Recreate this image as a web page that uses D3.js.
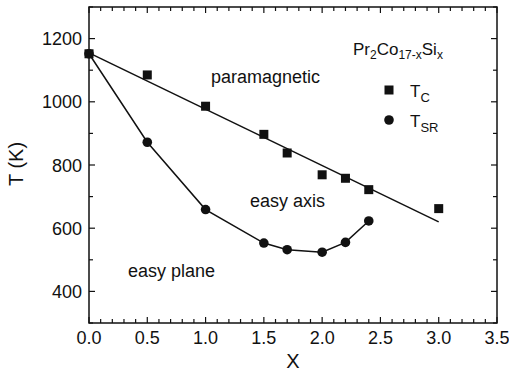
<!DOCTYPE html>
<html>
<head>
<meta charset="utf-8">
<script src="https://cdn.jsdelivr.net/npm/d3@7"></script>
<style>
  body { margin: 0; background: #fff; }
  text { font-family: Arial, "Liberation Sans", sans-serif; fill: #111; }
</style>
</head>
<body>
<div id="chart"></div>
<script>
// data
const xTC = [0, 0.5, 1.0, 1.5, 1.7, 2.0, 2.2, 2.4, 3.0];
const tc = [1152, 1085, 986, 897, 838, 769, 758, 722, 662];
const xTSR = [0, 0.5, 1.0, 1.5, 1.7, 2.0, 2.2, 2.4];
const tsr = [1152, 872, 659, 553, 532, 524, 555, 623];
// linear fit for T_C drawn as straight line
const fitX = [0, 3.0];
const fitY = [1155, 620];
const xTicks = [0, 0.5, 1.0, 1.5, 2.0, 2.5, 3.0, 3.5];
const yTicks = [400, 600, 800, 1000, 1200];

const width = 509, height = 377;
const margin = {top: 7, right: 12, bottom: 54, left: 89};

const svg = d3.select('#chart')
  .append('svg')
  .attr('width', width)
  .attr('height', height);

const x = d3.scaleLinear().domain([0, 3.5]).range([margin.left, width - margin.right]);
const y = d3.scaleLinear().domain([300, 1300]).range([height - margin.bottom, margin.top]);

const xMinor = d3.range(0, 3.501, 0.1).map(d => +d.toFixed(1));
const yMinor = d3.range(300, 1301, 100);

// ticks (inward on all four sides)
const g = svg.append('g').attr('stroke', '#111').attr('stroke-width', 1.2);
xMinor.forEach(v => {
  const major = Math.abs(v * 2 - Math.round(v * 2)) < 1e-6;
  const len = major ? 6 : 4;
  g.append('line').attr('x1', x(v)).attr('x2', x(v)).attr('y1', y(300)).attr('y2', y(300) - len);
  g.append('line').attr('x1', x(v)).attr('x2', x(v)).attr('y1', y(1300)).attr('y2', y(1300) + len);
});
yMinor.forEach(v => {
  const len = v % 200 === 0 ? 6 : 4;
  g.append('line').attr('x1', x(0)).attr('x2', x(0) + len).attr('y1', y(v)).attr('y2', y(v));
  g.append('line').attr('x1', x(3.5)).attr('x2', x(3.5) - len).attr('y1', y(v)).attr('y2', y(v));
});

// frame
svg.append('rect')
  .attr('x', x(0)).attr('y', y(1300))
  .attr('width', x(3.5) - x(0)).attr('height', y(300) - y(1300))
  .attr('fill', 'none').attr('stroke', '#111').attr('stroke-width', 1.5);

// tick labels
svg.selectAll('.xl').data(xTicks).join('text')
  .attr('x', d => x(d)).attr('y', y(300) + 21)
  .attr('text-anchor', 'middle').attr('font-size', 18)
  .text(d => d.toFixed(1));
svg.selectAll('.yl').data(yTicks).join('text')
  .attr('x', x(0) - 7).attr('y', d => y(d) + 6.5)
  .attr('text-anchor', 'end').attr('font-size', 18)
  .text(d => d);

// axis titles
svg.append('text').attr('x', (x(0) + x(3.5)) / 2).attr('y', 368)
  .attr('text-anchor', 'middle').attr('font-size', 20).text('X');
svg.append('text')
  .attr('transform', `translate(23,164) rotate(-90)`)
  .attr('text-anchor', 'middle').attr('font-size', 20).text('T (K)');

// lines
const line = d3.line().x(d => x(d[0])).y(d => y(d[1]));
svg.append('path')
  .attr('d', line(fitX.map((v, i) => [v, fitY[i]])))
  .attr('fill', 'none').attr('stroke', '#111').attr('stroke-width', 1.5);
svg.append('path')
  .attr('d', line(xTSR.map((v, i) => [v, tsr[i]])))
  .attr('fill', 'none').attr('stroke', '#111').attr('stroke-width', 1.5);

// markers
svg.selectAll('.sq').data(xTC.map((v, i) => [v, tc[i]])).join('rect')
  .attr('x', d => x(d[0]) - 4.5).attr('y', d => y(d[1]) - 4.5)
  .attr('width', 9).attr('height', 9).attr('fill', '#111');
svg.selectAll('.ci').data(xTSR.map((v, i) => [v, tsr[i]])).join('circle')
  .attr('cx', d => x(d[0])).attr('cy', d => y(d[1]))
  .attr('r', 4.8).attr('fill', '#111');

// region labels
svg.append('text').attr('x', 211).attr('y', 83).attr('font-size', 18).text('paramagnetic');
svg.append('text').attr('x', 250).attr('y', 207).attr('font-size', 18).text('easy axis');
svg.append('text').attr('x', 128).attr('y', 277).attr('font-size', 18).text('easy plane');

// legend
const title = svg.append('text').attr('x', 353).attr('y', 55).attr('font-size', 17);
title.append('tspan').text('Pr');
title.append('tspan').attr('font-size', 12).attr('dy', 4).text('2');
title.append('tspan').attr('dy', -4).text('Co');
title.append('tspan').attr('font-size', 12).attr('dy', 4).text('17-x');
title.append('tspan').attr('dy', -4).text('Si');
title.append('tspan').attr('font-size', 12).attr('dy', 4).text('x');

svg.append('rect').attr('x', 389 - 4.5).attr('y', 90 - 4.5).attr('width', 9).attr('height', 9).attr('fill', '#111');
svg.append('circle').attr('cx', 389).attr('cy', 120).attr('r', 4.8).attr('fill', '#111');
const tcl = svg.append('text').attr('x', 410).attr('y', 97).attr('font-size', 17);
tcl.append('tspan').text('T');
tcl.append('tspan').attr('font-size', 13).attr('dy', 5).text('C');
const tsl = svg.append('text').attr('x', 410).attr('y', 127).attr('font-size', 17);
tsl.append('tspan').text('T');
tsl.append('tspan').attr('font-size', 13).attr('dy', 5).text('SR');
</script>
</body>
</html>
